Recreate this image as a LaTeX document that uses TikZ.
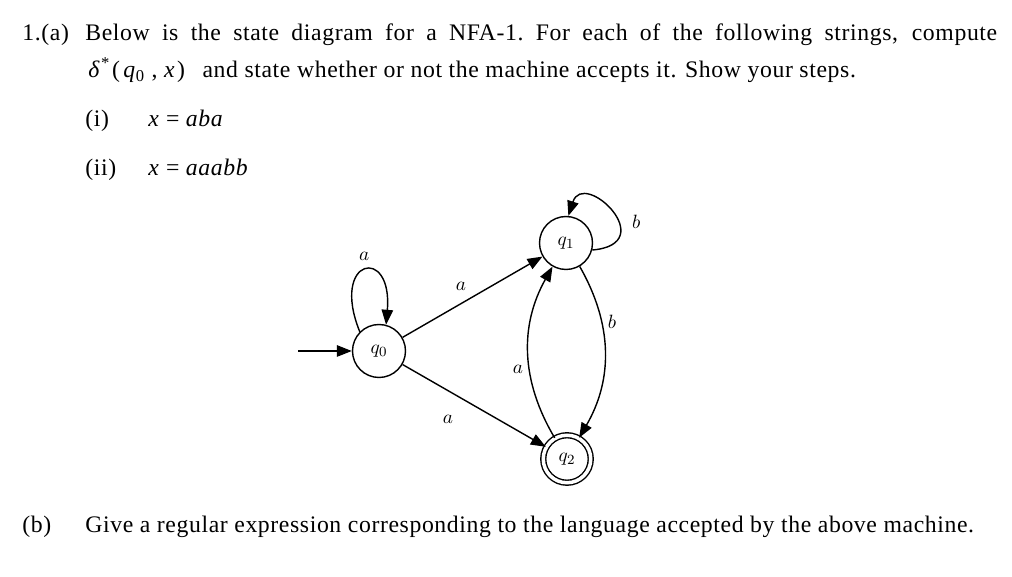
\documentclass[tikz,border=0pt]{standalone}
\usepackage[no-math]{fontspec}
\setmainfont{Liberation Serif}[LetterSpace=2.6]
\usetikzlibrary{arrows.meta,positioning}

\begin{document}
\begin{tikzpicture}[x=0.02cm, y=0.02cm,
    state/.style={circle, draw, line width=0.8pt, minimum size=1.06cm, inner sep=0pt, font=\fontsize{11}{13}\selectfont},
    accept/.style={state, minimum size=0.95cm, double, double distance=2pt},
    trans/.style={->, line width=0.8pt},
    lbl/.style={font=\fontsize{11}{13}\selectfont},
    txt/.style={anchor=base west, inner sep=0pt, font=\fontsize{13.5}{15}\selectfont},
    >={Triangle[length=8.5pt, width=6.5pt]}
]
    \useasboundingbox (0,0) rectangle (1012,577);

    % question text
    \node[txt] (num) at (22,536) {1.(a)};
    \node[txt] (line1) at (85,536) {\makebox[18.24cm][s]{Below is the state diagram for a NFA-1.\ For each of the following strings, compute}};
    \node[txt] (line2) at (88,499) {{\itshape δ}\kern1pt\textsuperscript{*}\kern1pt(\kern2pt\textit{q}\textsubscript{0}\ , \textit{x}\kern1pt)\hspace{10pt}and state whether or not the machine accepts it.  Show your steps.};
    \node[txt] (i) at (85,450) {(i)};
    \node[txt] (xi) at (148,450) {\textit{x} = \textit{aba}};
    \node[txt] (ii) at (85,401) {(ii)};
    \node[txt] (xii) at (148,401) {\textit{x} = \textit{aaabb}};
    \node[txt] (b) at (22,44) {(b)};
    \node[txt] (bq) at (85,44) {Give a regular expression corresponding to the language accepted by the above machine.};

    % the NFA
    \node[state] (q0) at (379,226) {$q_0$};
    \node[state] (q1) at (566,334) {$q_1$};
    \node[accept] (q2) at (567,118) {$q_2$};
    \coordinate (start) at (298,226);

    \draw[trans] (start) -- (q0);
    \draw[trans] (q0.135) .. controls +(112:80) and +(85:80) .. (q0.75) node[lbl, pos=0.5, above=2pt] {$a$};
    \draw[trans] (q1.-15) .. controls +(5:70) and +(72:50) .. (q1.85) node[lbl, pos=0.4, right=4pt] {$b$};
    \draw[trans] (q0) -- (q1) node[lbl, midway, above left] {$a$};
    \draw[trans] (q0) -- (q2) node[lbl, pos=0.45, below left=6pt] {$a$};
    \draw[trans] (q1) to[bend left=30] node[lbl, pos=0.32, right] {$b$} (q2);
    \draw[trans] (q2) to[bend left=30] node[lbl, pos=0.4, left] {$a$} (q1);
\end{tikzpicture}
\end{document}
